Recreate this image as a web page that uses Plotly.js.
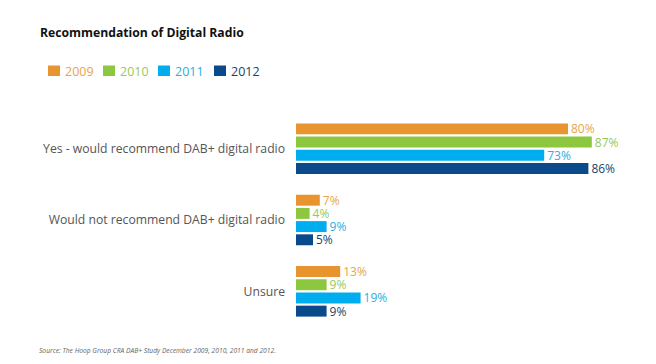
<!DOCTYPE html>
<html><head><meta charset="utf-8">
<script src="https://cdn.plot.ly/plotly-3.0.1.min.js"></script>
<style>html,body{margin:0;padding:0;background:#fff}#c{width:656px;height:364px}</style>
</head><body><div id="c"></div>
<script>
const categories = ["Yes - would recommend DAB+ digital radio", "Would not recommend DAB+ digital radio", "Unsure"];
const years = ["2009", "2010", "2011", "2012"];
const v2009 = [80, 7, 13];
const v2010 = [87, 4, 9];
const v2011 = [73, 9, 19];
const v2012 = [86, 5, 9];
const series = [v2009, v2010, v2011, v2012];
const barColors = ["#E8952F", "#8DC63F", "#00AEEF", "#0A4A8A"];
const textColors = ["#E9A548", "#96C95A", "#2AAEE4", "#253F66"];

const traces = series.map((vals, i) => ({
  type: "bar", orientation: "h",
  y: categories, x: vals,
  name: years[i],
  marker: {color: barColors[i]},
  text: vals.map(v => v + "%"),
  textposition: "outside",
  constraintext: "none",
  textfont: {color: textColors[i], size: 12, family: "Open Sans"},
  cliponaxis: false,
  hoverinfo: "none",
  showlegend: false
}));

// plot-area pixel helpers for layout items (legend/footnote)
const L = 296, W = 340, B = 327, H = 214;
const px = p => (p - L) / W;
const py = p => (B - p) / H;
const legendX = [48, 103, 158, 214];

const shapes = years.map((y, i) => ({
  type: "rect", xref: "paper", yref: "paper",
  x0: px(legendX[i]), x1: px(legendX[i] + 12), y0: py(76), y1: py(65.5),
  fillcolor: barColors[i], line: {width: 0}
}));
const annotations = years.map((y, i) => ({
  text: y, xref: "paper", yref: "paper", x: px(legendX[i] + 15), xanchor: "left",
  y: py(71), yanchor: "middle", showarrow: false,
  font: {size: 12.5, color: textColors[i], family: "Open Sans"}
}));
annotations.push({
  text: "<i>Source: The Hoop Group CRA DAB+ Study December 2009, 2010, 2011 and 2012.</i>",
  xref: "paper", yref: "paper", x: px(37), xanchor: "left",
  y: py(350), yanchor: "middle", showarrow: false,
  font: {size: 6.7, color: "#666", family: "Open Sans"}
});

const layout = {
  width: 656, height: 364,
  margin: {l: L, r: 656 - L - W, t: 113, b: 364 - B},
  paper_bgcolor: "#fff", plot_bgcolor: "#fff",
  barmode: "group", bargap: 0.26, bargroupgap: 0.17,
  font: {family: "Open Sans", color: "#555"},
  title: {text: "<b>Recommendation of Digital Radio</b>", x: 40/656, xanchor: "left", y: 1 - 33/364, yanchor: "middle",
          font: {size: 12.2, color: "#111", family: "Open Sans"}},
  xaxis: {range: [0, 100], visible: false},
  yaxis: {autorange: "reversed", showgrid: false, zeroline: false, showline: false, ticks: "",
          ticklabelstandoff: 10, tickfont: {size: 12.2, color: "#555"}},
  showlegend: false,
  shapes: shapes,
  annotations: annotations
};

Plotly.newPlot("c", traces, layout, {displayModeBar: false, staticPlot: true});
</script></body></html>
